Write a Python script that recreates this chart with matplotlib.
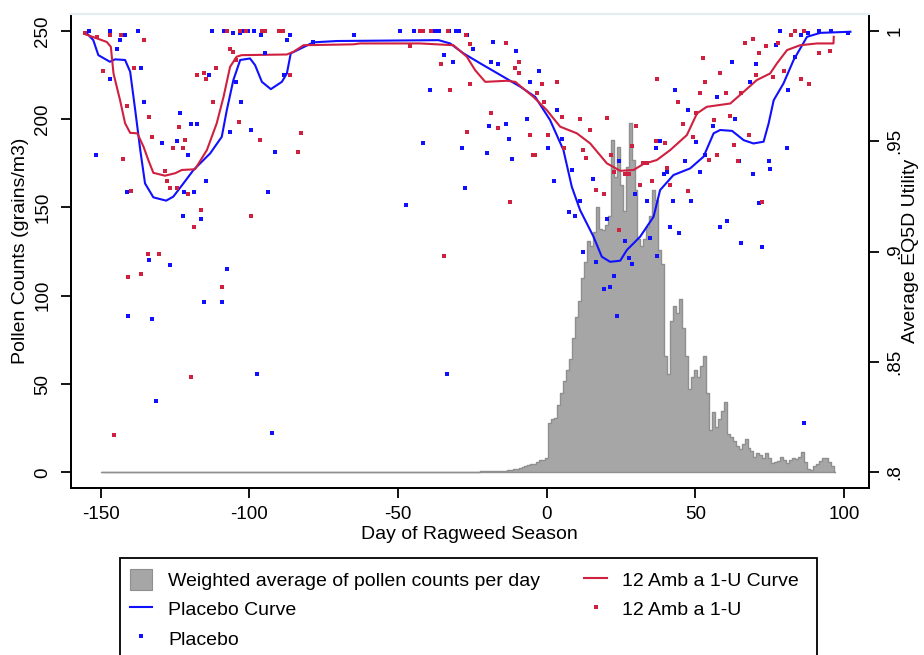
import numpy as np
import matplotlib
matplotlib.use("Agg")
import matplotlib.pyplot as plt
from matplotlib.patches import Patch, Rectangle
from matplotlib.lines import Line2D

plt.rcParams['font.family'] = ['Liberation Sans', 'DejaVu Sans']

# ---------------- data ----------------
hist_days = np.arange(-150, 98)
pollen = [0.0] * 128 + [
    1, 1, 1, 1, 1, 1, 1, 1, 1, 1.5, 1.5,
    2, 2, 2.5, 3, 3.5, 4, 4.5, 5, 6, 7, 7,
    8,
    28, 30, 31, 38, 45, 52, 58, 64, 76, 88,
    97, 110, 119, 131, 128, 136, 150, 138, 137, 140,
    145, 188, 167, 184, 163, 148, 173, 198, 177, 160,
    132, 128, 132, 139, 145, 160, 154, 126, 118, 66,
    56, 86, 94, 90, 98, 82, 66, 47, 54, 58,
    54, 60, 66, 45, 24, 34, 26, 30, 35, 40,
    22, 20, 18, 15, 13, 16, 19, 14, 12, 9,
    11, 10, 8, 11, 8, 5.5, 6, 6.5, 9, 7,
    5.5, 7, 8, 7.5, 9, 11.5, 6, 2, 1.5, 3.5,
    5, 6.5, 8, 8.3, 6, 3.5, 0]

placebo_curve_day = [-154.8, -152.5, -150.8, -146.9, -145.2, -141.8, -140.1, -138.4, -136.7,
                     -135.1, -132.3, -128.0, -125.6, -122.2, -118.8, -113.2, -109.3, -107.6,
                     -105.4, -103.1, -99.8, -98.1, -95.8, -92.8, -89.1, -87.4, -86.1, -78.5,
                     -70.6, -36.4, -32.5, -28.0, -22.4, -14.6, -8.9, -3.9, 1.1, 5.6, 8.4,
                     11.2, 15.7, 18.5, 21.3, 24.7, 26.9, 31.4, 35.9, 38.1, 42.6, 48.2, 52.7,
                     56.1, 58.3, 62.3, 66.2, 69.5, 72.9, 74.6, 76.3, 79.6, 83.0, 87.5, 92.0,
                     102.1]
placebo_curve_u = [0.9991, 0.9958, 0.9890, 0.9860, 0.9871, 0.9868, 0.9815, 0.9641, 0.9460,
                   0.9309, 0.9246, 0.9231, 0.9249, 0.9309, 0.9370, 0.9445, 0.9520, 0.9641,
                   0.9777, 0.9868, 0.9875, 0.9845, 0.9769, 0.9736, 0.9769, 0.9807, 0.9898,
                   0.9948, 0.9954, 0.9958, 0.9943, 0.9898, 0.9853, 0.9792, 0.9747, 0.9701,
                   0.9596, 0.9460, 0.9294, 0.9188, 0.9068, 0.8977, 0.8954, 0.8959, 0.9007,
                   0.9068, 0.9158, 0.9279, 0.9347, 0.9377, 0.9430, 0.9536, 0.9551, 0.9547,
                   0.9505, 0.9490, 0.9498, 0.9581, 0.9686, 0.9762, 0.9868, 0.9973, 0.9991,
                   0.9996]

amb_curve_day = [-155.3, -151.3, -148.0, -146.6, -145.7, -143.5, -141.8, -140.1, -137.7,
                 -135.6, -134.0, -132.3, -128.4, -125.0, -122.7, -118.3, -114.3, -111.0,
                 -108.7, -106.5, -104.3, -102.6, -87.4, -85.2, -81.8, -65.0, -62.8, -42.6,
                 -31.4, -26.9, -24.1, -20.7, -13.4, -10.6, -4.5, 0.0, 4.5, 10.1, 14.6,
                 20.2, 24.7, 29.2, 32.5, 37.0, 41.5, 47.1, 50.5, 53.8, 61.7, 66.2, 70.6,
                 75.1, 77.4, 80.8, 85.2, 90.9, 96.4, 96.5]
amb_curve_u = [0.9985, 0.9966, 0.9950, 0.9928, 0.9807, 0.9686, 0.9581, 0.9538, 0.9536,
               0.9475, 0.9415, 0.9357, 0.9344, 0.9355, 0.9370, 0.9373, 0.9460, 0.9581,
               0.9701, 0.9837, 0.9883, 0.9890, 0.9893, 0.9905, 0.9935, 0.9939, 0.9943,
               0.9943, 0.9935, 0.9883, 0.9822, 0.9769, 0.9774, 0.9769, 0.9701, 0.9641,
               0.9566, 0.9536, 0.9490, 0.9400, 0.9366, 0.9370, 0.9397, 0.9415, 0.9460,
               0.9528, 0.9626, 0.9656, 0.9671, 0.9724, 0.9777, 0.9807, 0.9853, 0.9913,
               0.9935, 0.9943, 0.9943, 0.9973]

placebo_day = [-154, -147, -142, -143.5, -144.6, -137.5, -147, -136.4, -135.3, -151.7, -141.3,
               -123.3, -119.6, -117.5, -124.4, -120.7, -129.4, -114.7, -113.6, -121.9, -118.5,
               -122.3, -116.3, -133.7, -126.7, -115.2, -109.3, -107.6, -112.7, -108.7, -105.4,
               -103.2, -101.7, -100.6, -98.3, -96.1, -87.4, -86.5, -104.5, -102.8, -106.5,
               -99.5, -94.7, -91.3, -93.6, -88.5, -78.5, -64.8, -49.5, -44.6, -39, -37.5,
               -36.4, -32.8, -30.6, -29.6, -26.8, -24.7, -31.7, -34.5, -39.2, -41.5, -28.5,
               -27.4, -47.4,
               -140.7, -132.6, -97.3, -33.4, -131.5, -92.5,
               -18.1, -10.4, -16.4, -18.7, -2.5, -5.6, -6.8, -13.8, -19.6, -12.7, -11.8, -20.2,
               0.3, 3.4, 5.2, 2.3, 8.4, 7.3, 9.5, 11, 12.2, 15.5, 16.6, 20.2, 24.2, 22.5, 19.3,
               21.4, 26.4, 27.5, 28.6, 29.8, 33.7, 34.8, 37.2, 36.8, 38.1, 40.4, 39.3, 42.6,
               41.5, 44.3, 43.2, 46.5, 47.4, 48.4, 51.4, 50.1, 53.3, 55.9, 57.2, 58.3, 60.6,
               62.3, 63.4, 64.5, 65.4, 68.2, 69.2, 70.3, 71.4, 72.5, 74.8, 75.1, 77, 78.5,
               80.7, 81, 83.3, 85.4, 88, 91.6, 95.6, 101.2,
               23.6, 86.6]
placebo_u = [1.0, 1.0, .998, .996, .992, 1.0, .978, .983, .968, .944, .927,
             .963, .958, .958, .950, .944, .949, .932, .980, .927, .927,
             .916, .915, .896, .894, .877, .877, .892, 1.0, 1.0, .999,
             .999, 1.0, 1.0, 1.0, .998, .996, .998, .977, .968, .954,
             .955, .990, .945, .927, .980, .995, .998, 1.0, 1.0, 1.0, 1.0,
             1.0, 1.0, 1.0, 1.0, .998, .992, .986, .989, .973, .949, .947,
             .929, .921,
             .871, .8695, .8447, .8447, .8324, .8177,
             .995, .991, .985, .986, .982, .977, .960, .958, .957, .951, .942, .9445,
             .947, .964, .951, .932, .937, .918, .916, .923, .8997, .933, .8953, .915, .941, .889, .883,
             .884, .905, .897, .8946, .926, .923, .906, .898, .947, .950, .936, .935, .923,
             .911, .9085, .973, .941, .964, .923, .936, .9495, .9437, .957, .970, .911, .914,
             .986, .960, .941, .904, .977, .935, .985, .922, .902, .941, .9375, .9935, 1.0,
             .947, .973, .988, .998, .999, 1.0, 1.0, .999,
             .871, .8223]

amb_day = [-155.3, -151.3, -146.9, -143.3, -135.3, -149.4, -138.7, -141.3, -133.6, -132.6,
           -142.4, -139.8, -140.7, -136.4, -134.2, -130.5, -128.3, -127.8, -126.7, -125.6,
           -123.6, -121.8, -122.2, -124.4, -120.7, -117.5, -115.2, -114.7, -111.4, -112.4,
           -116.3, -118.5, -109.3, -107.6, -106.5, -105.6, -104.5, -103.2, -101.1, -95.9,
           -94.6, -90.2, -88.8, -86.3, -82.7, -83.7, -103.4, -96.3, -99.6, -46, -42.6,
           -41.5, -39, -33.1, -27.1, -25.8, -35.5, -32.7, -25.8, -26.8, -34.4,
           -119.6, -145.7,
           -13.8, -9.5, -10.7, -9.3, -3.4, -1.7, -1.1, -5.6, -4.5, -3.8, -12.5, -18.7, -16.5,
           3.4, 0.3, 5.1, 5.9, 11.2, 14.6, 13.1, 12.3, 16.6, 19.4, 20.4, 21.5, 22.6, 24.4,
           26.4, 27.5, 28.6, 30.1, 31.2, 32.3, 33.7, 35.3, 37, 36.8, 39.8, 40.4, 41.5, 44.1,
           45.7, 47.4, 49.1, 50.2, 51.4, 52.5, 53.3, 54.4, 56.1, 57.2, 58.3, 60.3, 61.7,
           63.1, 64.2, 65.4, 66.7, 67.9, 69.2, 70.2, 71.3, 72.4, 73.6, 76.1, 77.7, 79.6,
           82.1, 83.3, 85.5, 86.4, 88.2, 91.4, 95.3]
amb_u = [.999, .997, .998, .998, .996, .982, .983, .966, .961, .952,
         .942, .9274, .8886, .890, .899, .899, .9366, .932, .929, .947,
         .9566, .9505, .947, .929, .926, .980, .981, .978, .983, .968,
         .919, .911, .884, 1.0, .992, .9905, .987, 1.0, 1.0, 1.0,
         1.0, 1.0, 1.0, .980, .9536, .945, .9586, .9505, .916, .993, 1.0,
         1.0, 1.0, 1.0, .998, .994, .985, .973, .976, .954, .898,
         .843, .817,
         .9945, .986, .983, .981, .972, .976, .968, .953, .944, .944, .9223, .963, .956,
         .977, .953, .961, .947, .960, .955, .9425, .946, .928, .926, .9607, .944, .936, .910,
         .935, .935, .948, .957, .930, .940, .940, .932, .978, .950, .949, .938, .930, .968,
         .958, .9275, .952, .963, .972, .9875, .977, .9415, .9595, .944, .981, .972, .9615,
         .9485, .941, .972, .9945, .953, .9965, .980, .990, .9223, .993, .979, .9945, .982,
         .998, 1.0, .978, 1.0, .976, .990, .991]

xticks = [-150, -100, -50, 0, 50, 100]
left_ticks = [0, 50, 100, 150, 200, 250]
right_ticks = [0.8, 0.85, 0.9, 0.95, 1.0]
right_labels = ['.8', '.85', '.9', '.95', '1']

BLUE = '#1010ff'
RED = '#d0203f'
GRAY = '#a6a6a6'
GRAY_EDGE = '#8f8f8f'

# ---------------- figure ----------------
fig = plt.figure(figsize=(9.24, 6.55), dpi=100)
ax = fig.add_axes([0.0765, 0.255, 0.8635, 0.7235])
ax.set_xlim(-160.1, 108.2)
ax.set_ylim(-8.8, 259.5)

ax.fill_between(hist_days, 0, pollen, step='mid', facecolor=GRAY,
                edgecolor=GRAY_EDGE, linewidth=1.0, zorder=1)

ax2 = ax.twinx()
ax2.set_ylim(0.8 - 8.8 / 1250, 0.8 + 259.5 / 1250)

ax2.plot(placebo_curve_day, placebo_curve_u, color=BLUE, lw=1.5, zorder=3)
ax2.plot(amb_curve_day, amb_curve_u, color=RED, lw=1.5, zorder=3)
ax2.plot(placebo_day, placebo_u, ls='none', marker='s', ms=2.2, mew=0,
         color=BLUE, zorder=4)
ax2.plot(amb_day, amb_u, ls='none', marker='s', ms=2.2, mew=0,
         color=RED, zorder=4)

# axes styling
for a in (ax, ax2):
    a.spines['top'].set_color('#e6edf2')
    a.spines['top'].set_linewidth(1.5)
    for s in ('left', 'right', 'bottom'):
        a.spines[s].set_linewidth(1.3)
        a.spines[s].set_color('black')

ax.set_xticks(xticks)
ax.set_xticklabels([str(v) for v in xticks])
ax.set_yticks(left_ticks)
ax.set_yticklabels([str(v) for v in left_ticks], rotation=90, va='center')
ax2.set_yticks(right_ticks)
ax2.set_yticklabels(right_labels, rotation=90, va='center')

ax.tick_params(axis='both', direction='out', length=7, width=1.3,
               labelsize=13.5, pad=6)
ax.tick_params(axis='y', pad=7)
ax2.tick_params(axis='y', direction='out', length=7, width=1.3,
                labelsize=13.5, pad=6)

ax.set_xlabel('Day of Ragweed Season', fontsize=14, labelpad=2)
ax.set_ylabel('Pollen Counts (grains/m3)', fontsize=14, labelpad=4)
ax2.set_ylabel('Average EQ5D Utility', fontsize=14, rotation=90)
ax2.yaxis.set_label_coords((902 - 70.7) / 797.8, 0.5)

handles = [
    Patch(facecolor=GRAY, edgecolor=GRAY_EDGE, linewidth=0.8),
    Line2D([], [], color=BLUE, lw=1.5),
    Line2D([], [], ls='none', marker='s', ms=2.2, mew=0, color=BLUE),
    Line2D([], [], color=RED, lw=1.5),
    Line2D([], [], ls='none', marker='s', ms=2.2, mew=0, color=RED),
]
labels = ['Weighted average of pollen counts per day', 'Placebo Curve', 'Placebo',
          '12 Amb a 1-U Curve', '12 Amb a 1-U']
leg = fig.legend(handles, labels, ncol=2, loc='upper left',
                 bbox_to_anchor=(130 / 924, 1 - 569 / 655, (799 - 130) / 924, 0.0),
                 mode='expand', fontsize=14, frameon=False,
                 handlelength=1.15, handleheight=1.3,
                 handletextpad=0.8, borderpad=0.0, labelspacing=0.42,
                 borderaxespad=0)
fig.patches.append(Rectangle((120 / 924, -0.05), (817 - 120) / 924,
                             (655 - 558) / 655 + 0.05, transform=fig.transFigure,
                             fill=False, edgecolor='black', linewidth=1.3))

fig.savefig('out.png', dpi=100, facecolor='white')
